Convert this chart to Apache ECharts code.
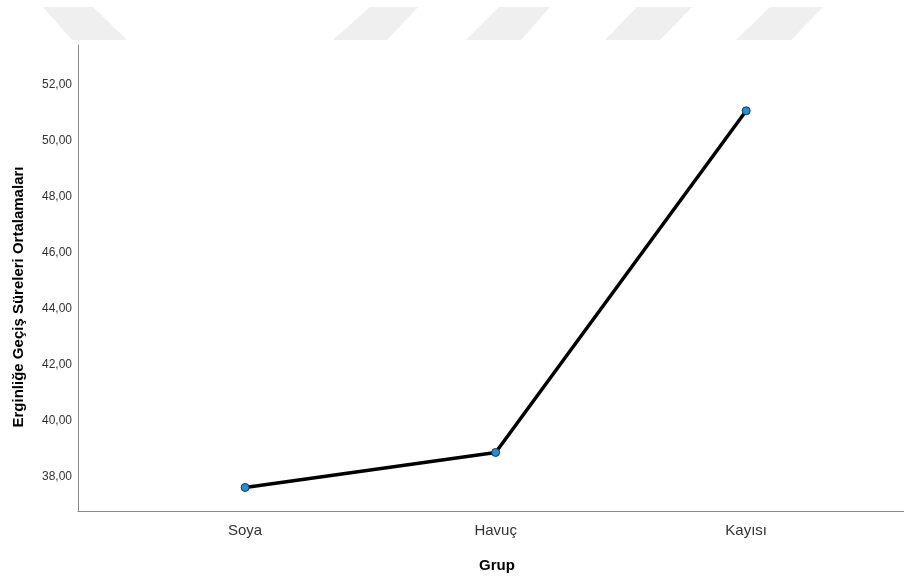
<!DOCTYPE html>
<html>
<head>
<meta charset="utf-8">
<script src="https://cdn.jsdelivr.net/npm/echarts@6/dist/echarts.min.js"></script>
<style>html,body{margin:0;padding:0;background:#fff}#c{width:904px;height:578px}</style>
</head>
<body>
<div id="c"></div>
<script>
const categories = ['Soya', 'Havuç', 'Kayısı'];
const means = [37.63, 38.88, 51.08];
const yTicks = [38, 40, 42, 44, 46, 48, 50, 52];
const xTitle = 'Grup';
const yTitle = 'Erginliğe Geçiş Süreleri Ortalamaları';

const chart = echarts.init(document.getElementById('c'), null, {renderer: 'canvas'});
const font = 'Arial, "Liberation Sans", sans-serif';

function band(x1t, x2t, x1b, x2b) {
  return {
    type: 'polygon', silent: true, z: -10,
    shape: {points: [[x1t, 7], [x2t, 7], [x2b, 40], [x1b, 40]]},
    style: {fill: '#efefef'}
  };
}

chart.setOption({
  backgroundColor: '#ffffff',
  animation: false,
  graphic: [
    band(43, 93, 72, 127),
    band(370, 418, 333, 387),
    band(499, 550, 466, 521),
    band(637, 692, 605, 660),
    band(770, 823, 736, 791)
  ],
  grid: {left: 78, right: 0, top: 45, bottom: 67, containLabel: false, outerBoundsMode: 'none'},
  xAxis: {
    type: 'value',
    min: -0.667, max: 2.63,
    name: xTitle,
    nameLocation: 'middle',
    nameGap: 47,
    nameTextStyle: {fontFamily: font, fontSize: 15, fontWeight: 'bold', color: '#000', padding: [0, 0, 0, 12]},
    splitLine: {show: false},
    axisTick: {show: false},
    axisLine: {show: true, onZero: false, lineStyle: {color: '#888', width: 1}},
    axisLabel: {
      customValues: [0, 1, 2],
      formatter: v => categories[Math.round(v)] || '',
      fontFamily: font, fontSize: 15, color: '#333', margin: 12
    }
  },
  yAxis: {
    type: 'value',
    min: 36.79, max: 53.43,
    name: yTitle,
    nameLocation: 'middle',
    nameGap: 52,
    nameRotate: 90,
    nameTextStyle: {fontFamily: font, fontSize: 15, fontWeight: 'bold', color: '#000', padding: [0, 38, 0, 0]},
    splitLine: {show: false},
    axisTick: {show: false},
    axisLine: {show: true, onZero: false, lineStyle: {color: '#888', width: 1}},
    axisLabel: {
      customValues: yTicks,
      formatter: v => v.toFixed(2).replace('.', ','),
      fontFamily: font, fontSize: 12, color: '#333', margin: 6
    }
  },
  series: [{
    type: 'line',
    data: means.map((v, i) => [i, v]),
    lineStyle: {color: '#000', width: 3.5},
    symbol: 'circle',
    symbolSize: 8,
    itemStyle: {color: '#1e8ee0', borderColor: '#1a3550', borderWidth: 1},
    z: 5
  }]
});
</script>
</body>
</html>
